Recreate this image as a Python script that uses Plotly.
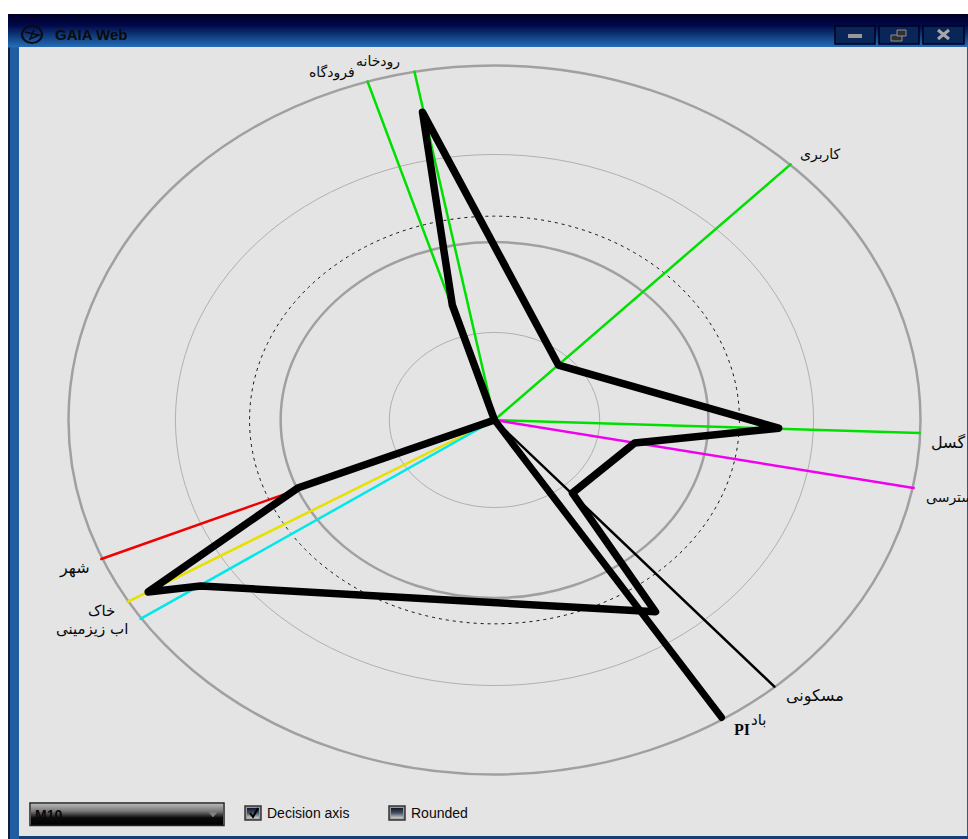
import plotly.graph_objects as go

# ---------- data (axis units: outer ring = 1) ----------
axis_names = ["فرودگاه", "رودخانه", "کاربری", "گسل", "دسترسی", "مسکونی", "شهر", "خاک", "اب زیزمینی"]
axis_x = [-0.298, -0.188, 0.695, 0.998, 0.984, 0.657, -0.923, -0.861, -0.831]
axis_y = [0.955, 0.983, 0.721, -0.037, -0.192, -0.752, -0.392, -0.513, -0.561]
axis_colors = ["#00e000", "#00e000", "#00e000", "#00e000", "#f000f0", "#000000", "#f00000", "#e8e000", "#00e8e8"]

profile_x = [0, -0.099, -0.169, 0.150, 0.667, 0.329, 0.183, 0.378, -0.690, -0.813, -0.462, 0]
profile_y = [0, 0.324, 0.868, 0.155, -0.023, -0.065, -0.206, -0.541, -0.468, -0.485, -0.192, 0]

pi_x = [0, 0.533]
pi_y = [0, -0.839]

ring_radii = [0.247, 0.502, 0.575, 0.749, 1.0]
ring_widths = [1, 2.5, 1, 1, 2.5]
ring_dash = ["solid", "solid", "3px,4px", "solid", "solid"]
ring_colors = ["#b0b0b0", "#a0a0a0", "#111111", "#b0b0b0", "#a0a0a0"]

# ---------- layout ----------
W, H = 968, 839
CX, CY, UX, UY = 494.5, 420, 426, 354.5


def px(x):
    return x / W


def py(y):
    return 1 - y / H


shapes = []


def rect(x0, y0, x1, y1, fill, line=None, lw=0):
    shapes.append(dict(type="rect", xref="paper", yref="paper", x0=px(x0), x1=px(x1), y0=py(y0), y1=py(y1),
                       fillcolor=fill, line=dict(color=line or fill, width=lw), layer="below"))


def lerp(c1, c2, t):
    return "rgb(%d,%d,%d)" % tuple(round(a + (b - a) * t) for a, b in zip(c1, c2))


def gradient(x0, y0, x1, y1, stops):
    n = int(y1 - y0)
    for i in range(n):
        t = i / max(n - 1, 1) * (len(stops) - 1)
        k = min(int(t), len(stops) - 2)
        col = lerp(stops[k], stops[k + 1], t - k)
        rect(x0, y0 + i, x1, y0 + i + 1.5, col)


def seg(pts, color, w, fill=None):
    d = "M " + " L ".join(f"{px(a):.5f},{py(b):.5f}" for a, b in pts)
    if fill:
        d += " Z"
    shapes.append(dict(type="path", xref="paper", yref="paper", path=d, layer="below",
                       line=dict(color=color, width=w), fillcolor=fill or "rgba(0,0,0,0)"))


# window chrome
rect(8, 14, W, 839, "#1f5ca0")
rect(8, 14, 10, 839, "#10203a")
gradient(8, 14, W, 47, [(0, 0, 40), (0, 8, 72), (15, 60, 125), (36, 106, 180)])
rect(19, 47, 967, 836, "#e4e4e4")
rect(19, 836, W, 839, "#143e78")

# title bar icon
shapes.append(dict(type="circle", xref="paper", yref="paper", x0=px(22), x1=px(42), y0=py(26), y1=py(43),
                   line=dict(color="#0a0a14", width=2), fillcolor="rgba(0,0,0,0)", layer="below"))
seg([(25, 32), (39, 35), (30, 39), (34, 30)], "#0a0a14", 1.5)

# window buttons
for x0, x1 in [(835, 875), (879, 919), (923, 964)]:
    rect(x0, 26, x1, 44, "#0a2558", "#000020", 1.5)
rect(848, 34, 862, 38, "#989898")
rect(891, 35, 902, 41, "#303030", "#909090", 1)
rect(897, 30, 906, 36, "#303030", "#909090", 1)
seg([(938, 30), (949, 39)], "#a8a8a8", 3)
seg([(949, 30), (938, 39)], "#a8a8a8", 3)

# combobox
gradient(31, 804, 223, 825, [(176, 176, 176), (120, 120, 120), (10, 10, 10), (0, 0, 0)])
shapes.append(dict(type="rect", xref="paper", yref="paper", x0=px(30), x1=px(224), y0=py(803), y1=py(825.5),
                   line=dict(color="#222222", width=1.5), fillcolor="rgba(0,0,0,0)", layer="below"))
seg([(209, 812.5), (217, 812.5), (213, 817)], "#808080", 0.5, fill="#808080")

# checkboxes
for x0 in (245, 389):
    rect(x0, 806, x0 + 16, 820, "#9a9a9a", "#333333", 1.5)
    gradient(x0 + 2, 808, x0 + 14, 818, [(20, 30, 50), (70, 80, 100), (190, 190, 190)])
seg([(250, 813), (253, 817), (258, 808)], "#000000", 2)

# rings
for r, w, d, c in zip(ring_radii, ring_widths, ring_dash, ring_colors):
    shapes.append(dict(type="circle", xref="x", yref="y", x0=-r, x1=r, y0=-r, y1=r,
                       line=dict(color=c, width=w, dash=d), fillcolor="rgba(0,0,0,0)", layer="below"))

fig = go.Figure()
for name, x, y, col in zip(axis_names, axis_x, axis_y, axis_colors):
    fig.add_trace(go.Scatter(x=[0, x], y=[0, y], mode="lines", name=name, line=dict(color=col, width=2.5)))
fig.add_trace(go.Scatter(x=profile_x, y=profile_y, mode="lines", name="M10", line=dict(color="#000000", width=7.5)))
fig.add_trace(go.Scatter(x=pi_x, y=pi_y, mode="lines", name="PI", line=dict(color="#000000", width=7)))

AR = "DejaVu Sans"
UI = "Liberation Sans"
labels = [
    ("رودخانه", 378, 62, AR, 14, "center"),
    ("فرودگاه", 332, 72, AR, 14, "center"),
    ("کاربری", 820, 155, AR, 14, "center"),
    ("گسل", 948, 442, AR, 16, "center"),
    ("دسترسی", 924, 497, AR, 14, "left"),
    ("شهر", 74, 568, AR, 16, "center"),
    ("خاک", 101, 611, AR, 15, "center"),
    ("اب زیزمینی", 92, 629, AR, 15, "center"),
    ("مسکونی", 815, 696, AR, 16, "center"),
    ("باد", 758, 720, AR, 15, "center"),
    ("<b>PI</b>", 742, 729, "Liberation Serif", 16, "center"),
    ("<b>GAIA Web</b>", 53, 35, UI, 15, "left"),
    ("<b>M10</b>", 33, 815, UI, 14, "left"),
    ("Decision axis", 265, 813, UI, 14, "left"),
    ("Rounded", 409, 813, UI, 14, "left"),
]
annotations = [dict(text=t, xref="paper", yref="paper", x=px(x), y=py(y), xanchor=a, yanchor="middle",
                    showarrow=False, font=dict(family=f, size=s, color="#0a0a0a"))
               for t, x, y, f, s, a in labels]

fig.update_layout(
    width=W, height=H, margin=dict(l=0, r=0, t=0, b=0), showlegend=False,
    paper_bgcolor="#ffffff", plot_bgcolor="rgba(0,0,0,0)", shapes=shapes, annotations=annotations,
    xaxis=dict(range=[-CX / UX, (W - CX) / UX], visible=False, fixedrange=True),
    yaxis=dict(range=[(CY - H) / UY, CY / UY], visible=False, fixedrange=True),
)
fig.write_html("out.html", config=dict(displayModeBar=False),
               post_script="document.body.style.margin='0';document.body.style.overflow='hidden';"
                           "document.querySelectorAll('.js-line').forEach(function(e){"
                           "e.style.strokeLinejoin='round';e.style.strokeLinecap='round';});")
